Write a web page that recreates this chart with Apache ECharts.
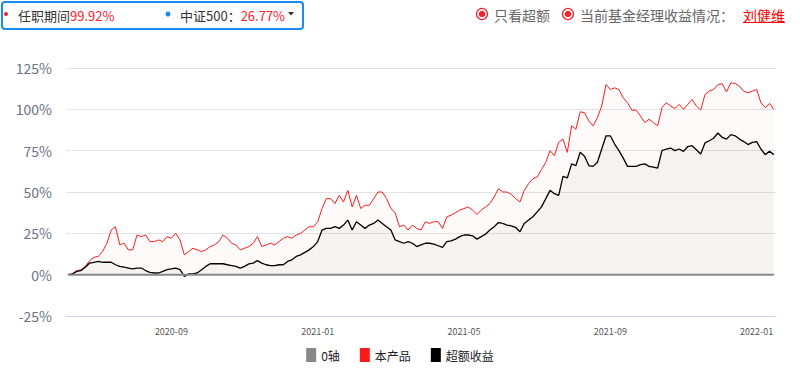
<!DOCTYPE html>
<html><head><meta charset="utf-8">
<script src="https://cdn.jsdelivr.net/npm/echarts@6/dist/echarts.min.js"></script>
<style>html,body{margin:0;padding:0;background:#fff}#c{width:800px;height:372px}</style>
</head><body><div id="c"></div>
<script>
// weekly anchor dates; a mid-week date is inserted between each pair
const weeklyDates = [
 '2020-06-08','2020-06-15','2020-06-22','2020-06-29','2020-07-07','2020-07-14','2020-07-21','2020-07-28','2020-08-04','2020-08-11','2020-08-18','2020-08-25',
 '2020-09-01','2020-09-08','2020-09-15','2020-09-22','2020-09-29','2020-10-13','2020-10-20','2020-10-27','2020-11-03','2020-11-10','2020-11-17','2020-11-24','2020-12-01','2020-12-08','2020-12-15','2020-12-22','2020-12-29',
 '2021-01-05','2021-01-12','2021-01-19','2021-01-26','2021-02-01','2021-02-08','2021-02-19','2021-02-25','2021-03-04','2021-03-11','2021-03-18','2021-03-25','2021-03-30','2021-04-08','2021-04-15','2021-04-22','2021-04-29',
 '2021-05-07','2021-05-14','2021-05-21','2021-05-28','2021-06-04','2021-06-11','2021-06-18','2021-06-25','2021-07-02','2021-07-09','2021-07-16','2021-07-23','2021-07-30','2021-08-06','2021-08-13','2021-08-20','2021-08-27',
 '2021-09-01','2021-09-08','2021-09-15','2021-09-24','2021-10-08','2021-10-15','2021-10-22','2021-10-29','2021-11-05','2021-11-12','2021-11-19','2021-11-26','2021-12-03','2021-12-10','2021-12-17','2021-12-24','2021-12-30',
 '2022-01-07','2022-01-13','2022-01-17'
];
const productReturn = [
 0,0.5,2.4,3,5,8.5,10.5,11,14,19,
 27,29,18,19,15,15,24,23,24,20,
 20,21,20,23,22,25,21,12,14,16,
 15,14,15,17,18,20,24,22,19,18,
 15,16,17,19,23,17,18,19,18,20,
 22,23,22,24,25,27,29,29,32,40,
 46,46,43,48,44,51,41,48,40,42,
 42,46,50,50,46,40,37.5,29,30,27,
 30,28,27,32,31,32,32,28,35,36,
 37.5,39,40,41,39,36.5,39,41,43,47,
 52,50,50,48.5,46,44,51,55,58,59,
 63.5,68,75,72,80,82,74,90,88,98.5,
 98,93,90,95,102,115,112,113,112,107,
 104,99.5,99.5,96,92,94,92,90,101,104,
 102,100.5,103,100,103,106,102,99.6,109,111,
 112,115,115.5,110.5,116,115.7,114,111,110,111,
 112,104,101,103.6,99.92
];
const excessReturn = [
 0,0.5,2,2.5,4.5,7,7.5,8,7.5,7.5,
 7.5,6,5,4.5,4,3.5,4,4,2.5,1.4,
 1,1,2,3,3.5,4,3,-1,0.5,0.5,
 1,3,5,6.6,6.6,6.6,6.6,6,5.5,5,
 4,5,6.5,7,8.5,7,6,5.5,5.5,6,
 6,8,9,11,12,13.5,15,17,20,27,
 28,28,29,28,30,33,27,32,30,28,
 30,31,33,31,29,27,21,20,19,20,
 19,17,18,19,19,18.5,17.5,16.5,20,20.5,
 21.5,23,24,24,23.5,21.5,23,24.5,27,29,
 31.5,31,30,29.5,28.5,26,31,33,35,38,
 41,46,51,49,48,59.5,58.5,67,66,74,
 71.6,66,65.5,68,76,84,84,79,75,70.5,
 65.5,65.5,65.5,66.5,67,65.5,65,64.5,75,76,
 76.6,75,76,74.6,77.5,78,75.6,73,79.7,81,
 82.5,85.7,83,82,84.7,84,82,80.5,78.7,80,
 80.5,76,72.6,74.6,72.6
];
const labelMonths = ['01','05','09'];
const seriesNames = ['0轴','本产品','超额收益'];
const tenureReturn = '99.92%';
const indexReturn = '26.77%';

function fmt(d){const p=n=>String(n).padStart(2,'0');return d.getUTCFullYear()+'-'+p(d.getUTCMonth()+1)+'-'+p(d.getUTCDate());}
const dates = [];
for (let k=0;k<weeklyDates.length;k++){
  dates.push(weeklyDates[k]);
  if (k<weeklyDates.length-1){
    const a=new Date(weeklyDates[k]+'T00:00:00Z'), b=new Date(weeklyDates[k+1]+'T00:00:00Z');
    const half=Math.floor((b-a)/86400000/2);
    let m=new Date(a.getTime()+half*86400000);
    if (m.getUTCMonth()!==a.getUTCMonth()) m=new Date(Date.UTC(a.getUTCFullYear(),a.getUTCMonth()+1,0));
    dates.push(fmt(m));
  }
}
const zeroAxis = dates.map(() => 0);

const FONT = '"Noto Sans CJK SC","Noto Sans",sans-serif';
const chart = echarts.init(document.getElementById('c'), null, {renderer:'svg'});
chart.setOption({
  animation:false,
  textStyle:{fontFamily:FONT},
  grid:{left:66,right:24,top:68,bottom:56},
  legend:{
    data:seriesNames, bottom:5, left:'center', icon:'rect', itemWidth:10, itemHeight:14, itemGap:20,
    textStyle:{fontSize:12,color:'#222',fontFamily:FONT}
  },
  xAxis:{
    type:'category', data:dates, boundaryGap:true,
    axisLine:{onZero:false,lineStyle:{color:'#c6d1ea',width:1}},
    axisTick:{show:false},
    axisLabel:{
      fontSize:9, color:'#555', margin:11,
      interval:function(i,v){const m=v.slice(5,7); if(labelMonths.indexOf(m)<0) return false; return i===0||dates[i-1].slice(5,7)!==m;},
      formatter:function(v){return v.slice(0,7);}
    },
    splitLine:{show:false}
  },
  yAxis:{
    type:'value', min:-25, max:125, interval:25,
    axisLine:{show:false}, axisTick:{show:false},
    axisLabel:{formatter:'{value}%', fontSize:14, color:'#6b7285', margin:14},
    splitLine:{lineStyle:{color:'#e3e3e3',width:1}}
  },
  series:[
    {name:'0轴', type:'line', data:zeroAxis, symbol:'none', lineStyle:{color:'#888',width:2}, itemStyle:{color:'#888'}, z:5},
    {name:'本产品', type:'line', data:productReturn, symbol:'none', lineStyle:{color:'#ff1a1a',width:1}, itemStyle:{color:'#ff1a1a'},
      areaStyle:{color:'rgba(220,120,120,0.055)'}, z:3},
    {name:'超额收益', type:'line', data:excessReturn, symbol:'none', lineStyle:{color:'#000',width:1.3}, itemStyle:{color:'#000'},
      areaStyle:{color:'rgba(150,130,130,0.09)'}, z:4}
  ],
  graphic:[
    {type:'rect', shape:{x:2,y:2,width:301,height:27,r:3}, style:{fill:'#fff',stroke:'#1a8cf0',lineWidth:2}},
    {type:'circle', shape:{cx:6,cy:14,r:2}, style:{fill:'#f5222d'}},
    {type:'text', x:18, y:15, style:{text:'{a|任职期间}{b|'+tenureReturn+'}', verticalAlign:'middle',
      rich:{a:{fontSize:13,fill:'#333',fontFamily:FONT},b:{fontSize:13,fill:'#f5222d',fontFamily:FONT}}}},
    {type:'circle', shape:{cx:168,cy:14,r:2.5}, style:{fill:'#1a8cf0'}},
    {type:'text', x:180, y:15, style:{text:'{a|中证500：}{b|'+indexReturn+'}', verticalAlign:'middle',
      rich:{a:{fontSize:13,fill:'#333',fontFamily:FONT},b:{fontSize:13,fill:'#f5222d',fontFamily:FONT}}}},
    {type:'polygon', shape:{points:[[288,12],[294,12],[291,15.5]]}, style:{fill:'#333'}},
    {type:'circle', shape:{cx:482,cy:14,r:5.5}, style:{fill:'#fff',stroke:'#f5222d',lineWidth:1.2}},
    {type:'circle', shape:{cx:482,cy:14,r:3.3}, style:{fill:'#f5222d'}},
    {type:'text', x:494, y:15, style:{text:'只看超额', fontSize:14, fill:'#666', verticalAlign:'middle', fontFamily:FONT}},
    {type:'circle', shape:{cx:568,cy:14,r:5.5}, style:{fill:'#fff',stroke:'#f5222d',lineWidth:1.2}},
    {type:'circle', shape:{cx:568,cy:14,r:3.3}, style:{fill:'#f5222d'}},
    {type:'text', x:580, y:15, style:{text:'当前基金经理收益情况：', fontSize:14, fill:'#666', verticalAlign:'middle', fontFamily:FONT}},
    {type:'text', x:743, y:15, style:{text:'刘健维', fontSize:14, fill:'#ff0000', verticalAlign:'middle', fontFamily:FONT}},
    {type:'line', shape:{x1:743,y1:22.5,x2:785,y2:22.5}, style:{stroke:'#ff0000',lineWidth:1}}
  ]
});
</script></body></html>
